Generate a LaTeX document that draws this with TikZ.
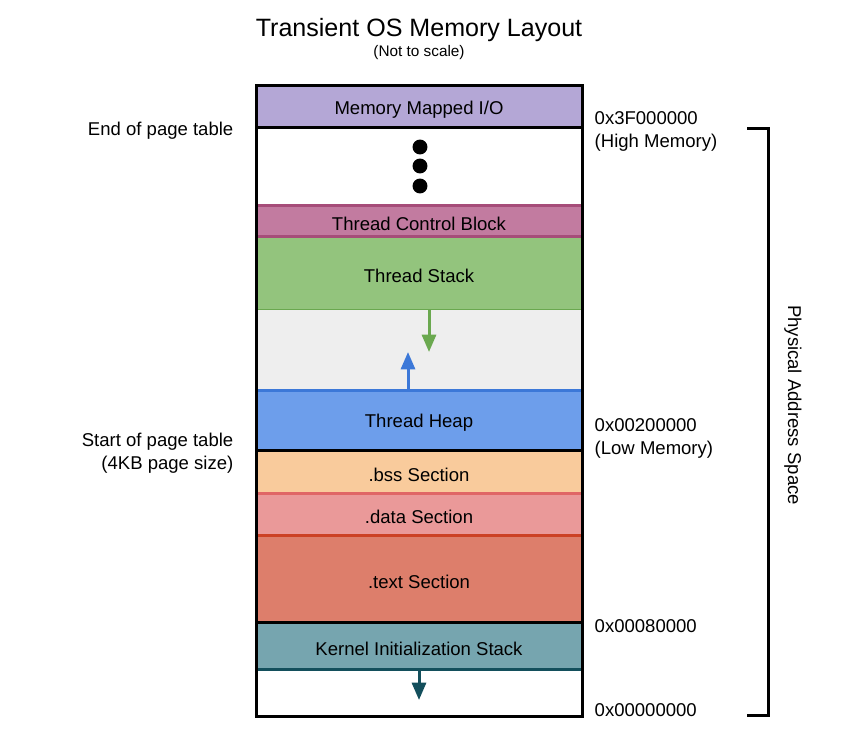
\documentclass[tikz,border=0pt]{standalone}
\usepackage{fontspec}
\setmainfont{Liberation Sans}
\usetikzlibrary{arrows.meta}
\definecolor{mmiofill}{HTML}{B4A7D6}
\definecolor{tcbfill}{HTML}{C27BA0}
\definecolor{tcbline}{HTML}{A64D79}
\definecolor{stackfill}{HTML}{93C47D}
\definecolor{stackline}{HTML}{6AA84F}
\definecolor{gapfill}{HTML}{EEEEEE}
\definecolor{heapfill}{HTML}{6D9EEB}
\definecolor{heapline}{HTML}{3C78D8}
\definecolor{bssfill}{HTML}{F9CB9C}
\definecolor{datafill}{HTML}{EA9999}
\definecolor{dataline}{HTML}{E06666}
\definecolor{textfill}{HTML}{DD7E6B}
\definecolor{textline}{HTML}{CC4125}
\definecolor{kernfill}{HTML}{76A5AF}
\definecolor{kernline}{HTML}{134F5C}

\begin{document}
\begin{tikzpicture}[x=0.75pt,y=-0.75pt,
		every node/.style={font=\fontsize{13.9}{17.2}\selectfont},
		every rectangle node/.style={yshift=-2.25pt},
		seg/.style={line width=2.25pt},
		growarrow/.style={line width=2.25pt,-{Triangle[length=13pt,width=10.5pt]}}]
		\useasboundingbox (0,0) rectangle (846,735);
		\coordinate (stackEnd) at (429,310);
		\coordinate (stackTip) at (429,352);
		\coordinate (heapEnd) at (408,390);
		\coordinate (heapTip) at (408,352);
		\coordinate (kernEnd) at (419,669);
		\coordinate (kernTip) at (419,700);
		\coordinate (brTop) at (747,128);
		\coordinate (brBot) at (747,715);
		\node (title) at (419,27) {\fontsize{18.8}{22}\selectfont Transient OS Memory Layout};
		\node (scale) at (419,50) {\fontsize{11.5}{14}\selectfont (Not to scale)};
		\path[fill=mmiofill] (256,86) rectangle node (mmio) {Memory Mapped I/O} (582,127);
		\draw[seg, fill=stackfill, draw=stackline] (256,236) rectangle node (stack) {Thread Stack} (582,310);
		\draw[seg, fill=tcbfill, draw=tcbline] (256,205) rectangle node (tcb) {Thread Control Block} (582,236);
		\path[fill=gapfill] (256,310) rectangle (582,390);
		\draw[seg, fill=heapfill, draw=heapline] (256,390) rectangle node (heap) {Thread Heap} (582,450);
		\path[fill=bssfill] (256,450) rectangle node (bss) {.bss Section} (582,493);
		\draw[seg, fill=datafill, draw=dataline] (256,493) rectangle node (data) {.data Section} (582,535);
		\draw[seg, fill=textfill, draw=textline] (256,535) rectangle node (text) {.text Section} (582,622);
		\draw[seg, fill=kernfill, draw=kernline] (256,622) rectangle node (kern) {Kernel Initialization Stack} (582,669);
		\draw[seg] (256,127) -- (582,127);
		\draw[seg] (256,450) -- (582,450);
		\draw[seg] (256,622) -- (582,622);
		\draw[seg] (256,86) rectangle (582,716);
		\foreach \y in {147,166,186}
			\fill (420,\y) circle[radius=5.6pt];
		\draw[growarrow, stackline] (stackEnd) -- (stackTip);
		\draw[growarrow, heapline] (heapEnd) -- (heapTip);
		\draw[growarrow, kernline] (kernEnd) -- (kernTip);
		\node[anchor=west, align=left] (high) at (590,128) {0x3F000000\\(High Memory)};
		\node[anchor=west, align=left] (low) at (590,435) {0x00200000\\(Low Memory)};
		\node[anchor=west] (kbase) at (590,623) {0x00080000};
		\node[anchor=west] (zero) at (590,707) {0x00000000};
		\node[anchor=east] (ptend) at (238,128) {End of page table};
		\node[anchor=east, align=right] (ptstart) at (238,450) {Start of page table\\(4KB page size)};
		\draw[seg] (brTop) -- (768,128) -- (768,715) -- (brBot);
		\node[rotate=-90] (space) at (796,405) {Physical Address Space};
	\end{tikzpicture}
\end{document}
